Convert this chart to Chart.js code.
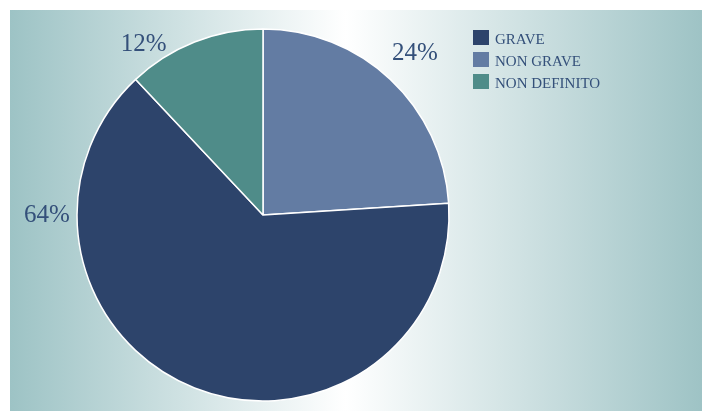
<!DOCTYPE html>
<html>
<head>
<meta charset="utf-8">
<script src="https://cdn.jsdelivr.net/npm/chart.js@4/dist/chart.umd.min.js"></script>
<style>
  html, body { margin: 0; padding: 0; background: #fff; }
  #wrap { width: 702px; height: 411px; }
</style>
</head>
<body>
<div id="wrap"><canvas id="severity"></canvas></div>
<script>
'use strict';

// Slice order runs clockwise from 12 o'clock
var categories = ['NON GRAVE', 'GRAVE', 'NON DEFINITO'];
var shares = [24, 64, 12];
var legendOrder = ['GRAVE', 'NON GRAVE', 'NON DEFINITO'];

var sliceColors = ['#637ca3', '#2d446b', '#4f8c89'];
var textColor = '#34507a';
var serif = '"Liberation Serif", "DejaVu Serif", serif';

// Where each percentage sits around the pie:
// angle in degrees clockwise from top (null = middle of slice), gap past the rim
var labelAngles = [null, -90, -35];
var labelGaps = [36, 30, 22];

// Panel behind the chart: soft teal fading to white in the middle
var panelBackground = {
  id: 'panelBackground',
  beforeDraw: function (chart) {
    var ctx = chart.ctx;
    var w = chart.width, h = chart.height;
    var grad = ctx.createLinearGradient(10, 0, w, 0);
    grad.addColorStop(0, '#9dc3c5');
    grad.addColorStop(0.485, '#ffffff');
    grad.addColorStop(1, '#9ec3c5');
    ctx.save();
    ctx.fillStyle = grad;
    ctx.fillRect(10, 10, w - 10, h - 10);
    ctx.restore();
  }
};

// Percentages outside the slices
var outsideLabels = {
  id: 'outsideLabels',
  afterDatasetsDraw: function (chart) {
    var ctx = chart.ctx;
    var meta = chart.getDatasetMeta(0);
    ctx.save();
    ctx.font = '25px ' + serif;
    ctx.fillStyle = textColor;
    ctx.textAlign = 'center';
    ctx.textBaseline = 'middle';
    meta.data.forEach(function (arc, i) {
      var p = arc.getProps(['x', 'y', 'startAngle', 'endAngle', 'outerRadius'], true);
      var a = labelAngles[i] === null
        ? (p.startAngle + p.endAngle) / 2
        : (labelAngles[i] - 90) * Math.PI / 180;
      var d = p.outerRadius + labelGaps[i];
      ctx.fillText(shares[i] + '%', p.x + Math.cos(a) * d, p.y + Math.sin(a) * d);
    });
    ctx.restore();
  }
};

// Legend box in the upper right
var sideLegend = {
  id: 'sideLegend',
  afterDraw: function (chart) {
    var ctx = chart.ctx;
    var x = 473, y = 30, row = 22;
    ctx.save();
    ctx.font = '15px ' + serif;
    ctx.textBaseline = 'alphabetic';
    legendOrder.forEach(function (name, k) {
      var i = categories.indexOf(name);
      ctx.fillStyle = sliceColors[i];
      ctx.fillRect(x, y + k * row, 16, 15);
      ctx.fillStyle = textColor;
      ctx.fillText(name, x + 22, y + k * row + 14);
    });
    ctx.restore();
  }
};

var ctx = document.getElementById('severity');
var severityChart = new Chart(ctx, {
  type: 'pie',
  data: {
    labels: categories,
    datasets: [{
      data: shares,
      backgroundColor: sliceColors,
      borderColor: '#ffffff',
      borderWidth: 1.5
    }]
  },
  options: {
    responsive: true,
    maintainAspectRatio: false,
    animation: false,
    radius: 186,
    layout: { padding: { left: 0, right: 176, top: 19, bottom: 0 } },
    plugins: {
      legend: { display: false },
      tooltip: { enabled: false }
    }
  },
  plugins: [panelBackground, outsideLabels, sideLegend]
});
</script>
</body>
</html>
